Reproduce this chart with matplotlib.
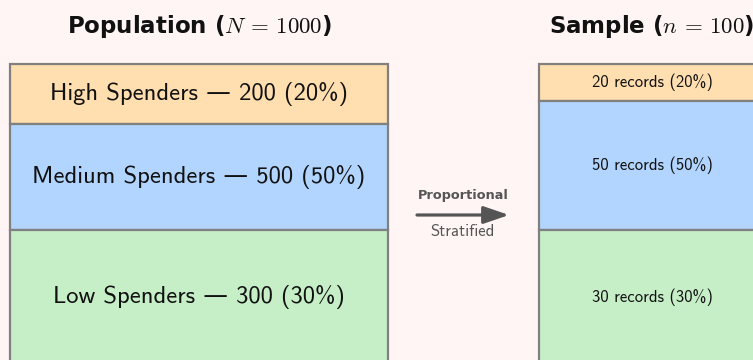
import matplotlib.pyplot as plt

plt.rcParams["mathtext.fontset"] = "cm"
plt.rcParams["font.family"] = ["cmss10", "DejaVu Sans"]

# -------------------------
# Data
# -------------------------

segments = ["High Spenders", "Medium Spenders", "Low Spenders"]
population_counts = [200, 500, 300]
sample_counts = [20, 50, 30]
population_total = 1000
sample_total = 100

# -------------------------
# Layout (pixel space)
# -------------------------

colors = ["#FFDEB0", "#B2D5FF", "#C6EFC8"]
edge = "#808080"
bg = "#FFF5F5"

box_top = 64
pop_x, pop_w = 10, 378
smp_x, smp_w = 539, 226
pop_heights = [60, 106, 134]
smp_heights = [37, 129, 134]

fig = plt.figure(figsize=(7.53, 3.6), dpi=100)
fig.patch.set_facecolor(bg)
ax = fig.add_axes([0, 0, 1, 1])
ax.set_facecolor(bg)
ax.set_xlim(0, 753)
ax.set_ylim(360, 0)
ax.axis("off")


def draw_stack(x0, width, heights, labels, size):
    top = box_top
    for h, c, lab in zip(heights, colors, labels):
        ax.bar(x0 + width / 2, h, bottom=top, width=width, color=c,
               edgecolor=edge, linewidth=1.6)
        ax.text(x0 + width / 2, top + h / 2, lab, ha="center", va="center",
                fontsize=size, color="#111111")
        top += h


pop_labels = [
    f"{name} \u2014 {n} ({n / population_total:.0%})"
    for name, n in zip(segments, population_counts)
]
smp_labels = [
    f"{n} records ({n / sample_total:.0%})" for n in sample_counts
]

draw_stack(pop_x, pop_w, pop_heights, pop_labels, 17.7)
draw_stack(smp_x, smp_w, smp_heights, smp_labels, 12)

ax.text(pop_x + pop_w / 2, 27, rf"Population ($N\,=\,{population_total}$)",
        ha="center", va="center", fontsize=16.5, fontweight="bold",
        family="DejaVu Sans", color="#111111")
ax.text(smp_x + smp_w / 2, 27, rf"Sample ($n\,=\,{sample_total}$)",
        ha="center", va="center", fontsize=16.5, fontweight="bold",
        family="DejaVu Sans", color="#111111")

# arrow between the two stacks
ax.annotate("", xy=(509, 215), xytext=(417, 215),
            arrowprops=dict(arrowstyle="-|>,head_length=0.7,head_width=0.24",
                            color="#555555", lw=2.3,
                            mutation_scale=22, shrinkA=0, shrinkB=0))
ax.text(463, 196, "Proportional", ha="center", va="center", fontsize=9.3,
        fontweight="bold", family="DejaVu Sans", color="#555555")
ax.text(463, 232, "Stratified", ha="center", va="center", fontsize=12,
        color="#555555")

fig.savefig("out.png", dpi=100, facecolor=bg)
